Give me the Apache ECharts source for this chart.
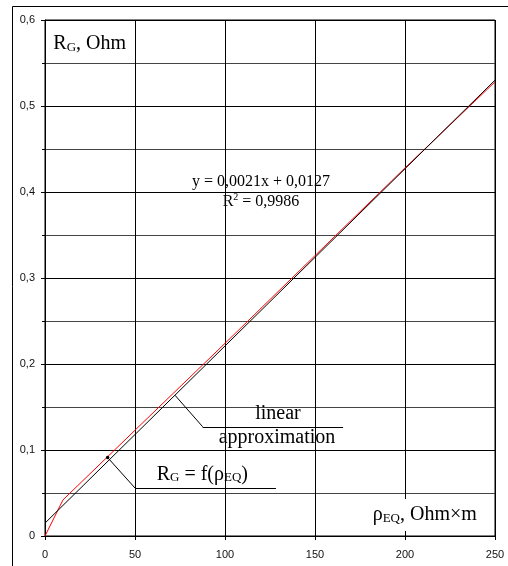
<!DOCTYPE html>
<html>
<head>
<meta charset="utf-8">
<script src="https://cdn.jsdelivr.net/npm/echarts@6/dist/echarts.min.js"></script>
<style>
html,body{margin:0;padding:0;background:#fff;}
#c{width:508px;height:566px;}
</style>
</head>
<body>
<div id="c"></div>
<script>
// measured curve R_G = f(rho_EQ)
const rho = [0, 10, 50, 100, 150, 200, 250];
const rg = [0, 0.042, 0.123, 0.224, 0.326, 0.428, 0.528];
// linear approximation (trend line) end points
const trendX = [0, 250];
const trendY = [0.015, 0.530];
// axes
const xTicks = [0, 50, 100, 150, 200, 250];
const yTicks = [0, 0.1, 0.2, 0.3, 0.4, 0.5, 0.6];
const eqText = 'y = 0,0021x + 0,0127';
const r2Text = '0,9986';

const serif = '"Liberation Serif", "Times New Roman", serif';
const sans = '"Liberation Sans", Arial, sans-serif';

const chart = echarts.init(document.getElementById('c'), null, {renderer: 'canvas'});
const fmt = v => (v === 0 ? '0' : String(+v.toFixed(2)).replace('.', ','));

chart.setOption({
  animation: false,
  backgroundColor: '#fff',
  grid: {left: 45, right: 13, top: 20, bottom: 30, containLabel: false, show: true,
         borderColor: '#000', borderWidth: 1, backgroundColor: 'transparent'},
  xAxis: {
    type: 'value', min: xTicks[0], max: xTicks[xTicks.length - 1], interval: xTicks[1] - xTicks[0],
    axisLine: {show: true, onZero: false, lineStyle: {color: '#000', width: 1}},
    axisTick: {show: true, length: 4, inside: false, lineStyle: {color: '#000'}},
    axisLabel: {margin: 13, fontFamily: sans, fontSize: 11, color: '#111', formatter: fmt},
    splitLine: {show: true, lineStyle: {color: '#000', width: 1}}
  },
  yAxis: {
    type: 'value', min: yTicks[0], max: yTicks[yTicks.length - 1], interval: yTicks[1] - yTicks[0],
    axisLine: {show: true, onZero: false, lineStyle: {color: '#000', width: 1}},
    axisTick: {show: true, length: 4, inside: false, lineStyle: {color: '#000'}},
    minorTick: {show: true, splitNumber: 2, length: 3, lineStyle: {color: '#000'}},
    minorSplitLine: {show: true, lineStyle: {color: '#444', width: 1}},
    axisLabel: {margin: 10, fontFamily: sans, fontSize: 11, color: '#111', formatter: fmt},
    splitLine: {show: true, lineStyle: {color: '#000', width: 1}}
  },
  series: [
    {
      type: 'line', name: 'RG', data: rho.map((x, i) => [x, rg[i]]),
      showSymbol: false, symbol: 'none', z: 3,
      lineStyle: {color: '#ff0000', width: 1},
      markPoint: {
        silent: true, symbol: 'circle', symbolSize: 3.5,
        itemStyle: {color: '#000'}, label: {show: false},
        data: [{coord: [34.8, 0.0912]}]
      }
    },
    {
      type: 'line', name: 'trend', data: trendX.map((x, i) => [x, trendY[i]]),
      showSymbol: false, symbol: 'none', z: 4,
      lineStyle: {color: '#000', width: 1},
      markLine: {
        silent: true, symbol: ['none', 'none'], animation: false,
        label: {show: false},
        lineStyle: {color: '#000', width: 1, type: 'solid'},
        emphasis: {disabled: true},
        data: [
          [{coord: [72.2, 0.1637]}, {coord: [87.6, 0.127]}],
          [{coord: [87.6, 0.127]}, {coord: [165.6, 0.127]}],
          [{coord: [34.8, 0.0912]}, {coord: [50, 0.0558]}],
          [{coord: [50, 0.0558]}, {coord: [128.3, 0.0558]}]
        ]
      }
    }
  ],
  graphic: [
    {type: 'rect', z: 100, silent: true, shape: {x: 12.5, y: 6.5, width: 600, height: 600},
     style: {fill: 'none', stroke: '#000', lineWidth: 1}},
    {type: 'text', z: 100, x: 53.3, y: 53.7, silent: true,
     style: {text: '{a|R}{s|G}{a|, Ohm}', align: 'left', verticalAlign: 'bottom',
       rich: {a: {fontFamily: serif, fontSize: 20, fill: '#000', verticalAlign: 'bottom'},
              s: {fontFamily: serif, fontSize: 13, fill: '#000', verticalAlign: 'bottom'}}}},
    {type: 'text', z: 100, x: 261, y: 190.2, silent: true,
     style: {text: eqText, align: 'center', verticalAlign: 'bottom', fontFamily: serif, fontSize: 16, fill: '#000'}},
    {type: 'text', z: 100, x: 261, y: 210.2, silent: true,
     style: {text: '{a|R}{p|2}{a| = ' + r2Text + '}', align: 'center', verticalAlign: 'bottom',
       rich: {a: {fontFamily: serif, fontSize: 16, lineHeight: 18, fill: '#000', verticalAlign: 'bottom'},
              p: {fontFamily: serif, fontSize: 10, lineHeight: 18, fill: '#000', verticalAlign: 'top'}}}},
    {type: 'text', z: 100, x: 278, y: 423.7, silent: true,
     style: {text: 'linear', align: 'center', verticalAlign: 'bottom', fontFamily: serif, fontSize: 20, fill: '#000'}},
    {type: 'text', z: 100, x: 277, y: 447.7, silent: true,
     style: {text: 'approximation', align: 'center', verticalAlign: 'bottom', fontFamily: serif, fontSize: 20, fill: '#000'}},
    {type: 'text', z: 100, x: 156.7, y: 484.4, silent: true,
     style: {text: '{a|R}{s|G}{a| = f(ρ}{s|EQ}{a|)}', align: 'left', verticalAlign: 'bottom',
       rich: {a: {fontFamily: serif, fontSize: 20, fill: '#000', verticalAlign: 'bottom'},
              s: {fontFamily: serif, fontSize: 13, fill: '#000', verticalAlign: 'bottom'}}}},
    {type: 'text', z: 100, x: 369.7, y: 531.1, silent: true,
     style: {text: '{a|ρ}{s|EQ}{a|, Ohm×m}', align: 'left', verticalAlign: 'bottom',
       backgroundColor: '#fff', padding: [6, 3, 6, 3],
       rich: {a: {fontFamily: serif, fontSize: 20, fill: '#000', verticalAlign: 'bottom'},
              s: {fontFamily: serif, fontSize: 13, fill: '#000', verticalAlign: 'bottom'}}}}
  ]
});
</script>
</body>
</html>
